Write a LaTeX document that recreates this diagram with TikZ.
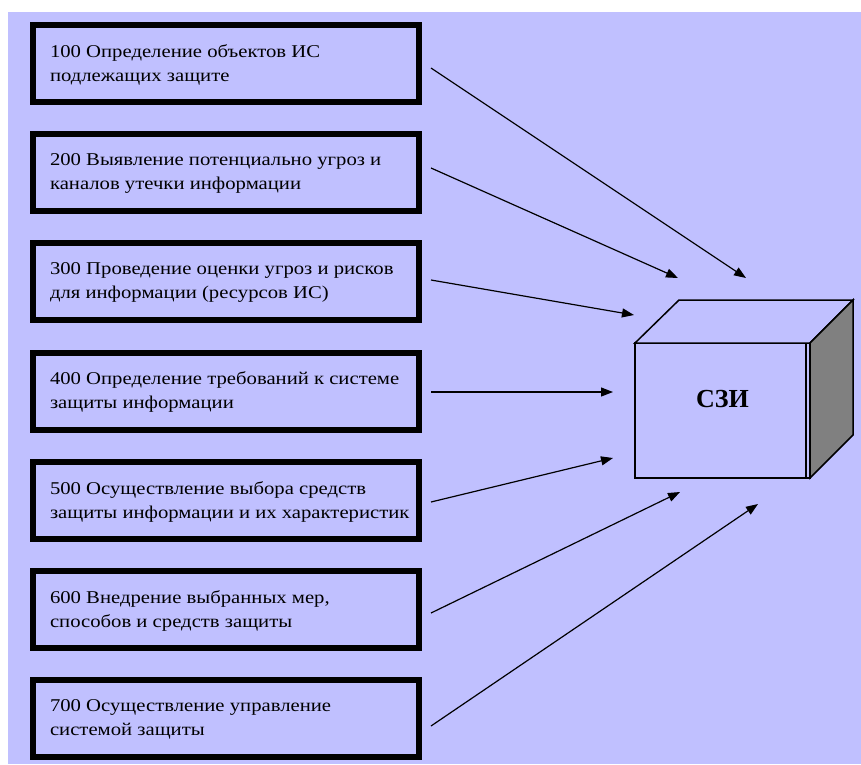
\documentclass[tikz,border=0pt]{standalone}
\usepackage{fontspec}
\setmainfont{Liberation Serif}
\newfontfamily\stagefont[FakeStretch=1.15]{Liberation Serif}
\usetikzlibrary{arrows.meta,calc}
\definecolor{lav}{RGB}{192,192,255}
\definecolor{sidegray}{RGB}{128,128,128}
\begin{document}
\begin{tikzpicture}[x=1pt,y=-1pt,
  stagebox/.style={draw=black,line width=6pt,fill=lav,minimum width=386pt,minimum height=77pt,
    inner sep=0pt,outer sep=0pt,anchor=north west},
  stagetext/.style={anchor=north west,align=left,inner sep=0pt,outer sep=0pt,
    font=\stagefont\fontsize{18}{24}\selectfont},
  feed/.style={draw=black,line width=1.2pt,-{Triangle[length=12pt,width=9pt]}},
  cubeline/.style={draw=black,line width=1.5pt,line join=miter}]
  % page and background
  \fill[white] (0,0) rectangle (861,764);
  \useasboundingbox (0,0) rectangle (861,764);
  \fill[lav] (8,12) rectangle (861,764);

  % stage boxes
  \foreach \i/\t in {1/22,2/131.2,3/240.4,4/349.6,5/458.8,6/568,7/677.2}{
    \node[stagebox] (b\i) at (33,\t+3) {};
  }
  \node[stagetext] (l1) at ($(b1.north west)+(17,19.5)$) {100 Определение объектов ИС\\подлежащих защите};
  \node[stagetext] (l2) at ($(b2.north west)+(17,19.5)$) {200 Выявление потенциально угроз и\\каналов утечки информации};
  \node[stagetext] (l3) at ($(b3.north west)+(17,19.5)$) {300 Проведение оценки угроз и рисков\\для информации (ресурсов ИС)};
  \node[stagetext] (l4) at ($(b4.north west)+(17,19.5)$) {400 Определение требований к системе\\защиты информации};
  \node[stagetext] (l5) at ($(b5.north west)+(17,19.5)$) {500 Осуществление выбора средств\\защиты информации и их характеристик};
  \node[stagetext] (l6) at ($(b6.north west)+(17,19.5)$) {600 Внедрение выбранных мер,\\способов и средств защиты};
  \node[stagetext] (l7) at ($(b7.north west)+(17,19.5)$) {700 Осуществление управление\\системой защиты};

  % the protection system as a box
  \node[cubeline,fill=lav,minimum width=175pt,minimum height=135pt,inner sep=0pt,outer sep=0pt,
        font=\bfseries\fontsize{26}{30}\selectfont,text height=17pt,text depth=24pt]
        (szi) at (722.5,410.5) {СЗИ};
  \filldraw[cubeline,fill=lav] (szi.north west) -- ++(44,-43) -- ++(174,0) -- (szi.north east) -- cycle;
  \filldraw[cubeline,fill=sidegray] (szi.north east) -- ++(43,-43) -- ++(0,135) -- (szi.south east) -- cycle;
  \draw[line width=1.2pt] ($(szi.north east)+(-4,0)$) -- ($(szi.south east)+(-4,0)$);

  % arrow ends near the box
  \coordinate (e1) at (746,278);
  \coordinate (e2) at (678,278);
  \coordinate (e3) at (634,315);
  \coordinate (e4) at (613,392);
  \coordinate (e5) at (613,458);
  \coordinate (e6) at (680,492);
  \coordinate (e7) at (758,504);

  \draw[feed] ($(b1.east)+(12,4.5)$) -- (e1);
  \draw[feed] ($(b2.east)+(12,-4.7)$) -- (e2);
  \draw[feed] ($(b3.east)+(12,-1.9)$) -- (e3);
  \draw[feed] ($(b4.east)+(12,0.9)$) -- (e4);
  \draw[feed] ($(b5.east)+(12,1.7)$) -- (e5);
  \draw[feed] ($(b6.east)+(12,3.5)$) -- (e6);
  \draw[feed] ($(b7.east)+(12,7.3)$) -- (e7);
\end{tikzpicture}
\end{document}
